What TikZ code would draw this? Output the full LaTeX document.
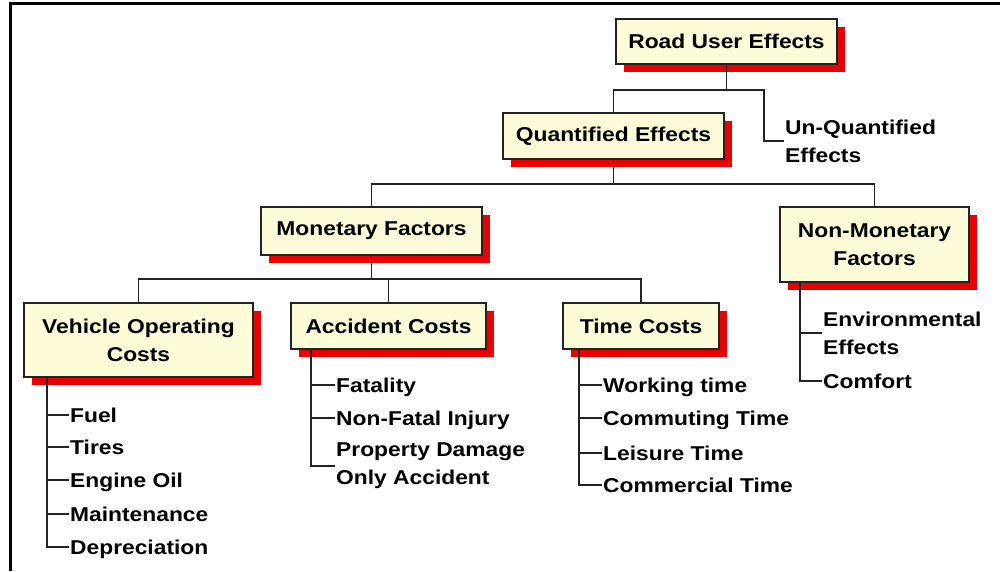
\documentclass[tikz,border=0pt]{standalone}
\usepackage{fontspec}
\setmainfont{Liberation Sans}[FakeStretch=1.14]
\usetikzlibrary{shadows}
\definecolor{boxfill}{RGB}{253,251,216}
\definecolor{shred}{RGB}{235,0,0}
\definecolor{linec}{RGB}{35,35,35}
\begin{document}
\begin{tikzpicture}[x=1pt,y=-1pt,
  every node/.style={font=\fontsize{20}{28}\selectfont\bfseries},
  box/.style={draw=linec, line width=1.9pt, fill=boxfill, inner sep=0pt, align=center,
     drop shadow={shadow xshift=8pt, shadow yshift=-8pt, fill=shred, opacity=1, draw=none}},
  item/.style={anchor=west, inner sep=1pt, align=left},
  sitem/.style={item, text height=14.5pt, text depth=0pt},
  conn/.style={draw=linec, line width=1.8pt}]
\useasboundingbox (0,0) rectangle (1000,571);
\fill[white] (0,0) rectangle (1000,571);
\draw[line width=3pt, black] (1000,3) -- (10,3) -- (10,571);

% boxes
\node[box, minimum width=221pt, minimum height=45pt] (rue) at (726.5,41.5) {Road User Effects};
\node[box, minimum width=221pt, minimum height=46pt] (qe) at (613.5,136) {Quantified Effects};
\node[box, minimum width=221pt, minimum height=48pt] (mf) at (371.5,231) {Monetary Factors};
\node[box, minimum width=189pt, minimum height=75pt] (nmf) at (874.5,244.5) {Non-Monetary\\Factors};
\node[box, minimum width=229pt, minimum height=74pt] (voc) at (138.5,340) {Vehicle Operating\\Costs};
\node[box, minimum width=195pt, minimum height=46pt] (ac) at (388.5,326) {Accident Costs};
\node[box, minimum width=156pt, minimum height=46pt] (tc) at (641,326) {Time Costs};

% items
\node[item] (uq) at (784,141) {Un-Quantified\\Effects};
\node[sitem] (fuel) at (69,415) {Fuel};
\node[sitem] (tires) at (69,447) {Tires};
\node[sitem] (oil) at (69,480) {Engine Oil};
\node[sitem] (maint) at (69,514) {Maintenance};
\node[sitem] (dep) at (69,547) {Depreciation};
\node[sitem] (fat) at (335,385) {Fatality};
\node[sitem] (inj) at (335,418) {Non-Fatal Injury};
\node[item] (prop) at (335,466) {Property Damage\\Only Accident};
\node[sitem] (work) at (602,385) {Working time};
\node[sitem] (comm) at (602,418) {Commuting Time};
\node[sitem] (leis) at (602,453) {Leisure Time};
\node[sitem] (cmrc) at (602,485) {Commercial Time};
\node[item] (env) at (822,333) {Environmental\\Effects};
\node[sitem] (comf) at (822,381) {Comfort};

% tree connectors
\draw[conn] (rue.south) -- ++(0,25) -| (qe.north);
\draw[conn] (rue.south) ++(0,25) -| ([xshift=-20pt]uq.west) -- (uq.west);
\draw[conn] (qe.south) -- ++(0,24) -| (mf.north);
\draw[conn] (qe.south) ++(0,24) -| (nmf.north);
\draw[conn] (mf.south) -- ++(0,23) -| (voc.north);
\draw[conn] (mf.south) ++(0,23) -| (ac.north);
\draw[conn] (mf.south) ++(0,23) -| (tc.north);

% list connectors
\foreach \n in {fuel,tires,oil,maint,dep}
  \draw[conn] ([xshift=24pt]voc.south west) |- (\n.west);
\foreach \n in {fat,inj,prop}
  \draw[conn] ([xshift=21pt]ac.south west) |- (\n.west);
\foreach \n in {work,comm,leis,cmrc}
  \draw[conn] ([xshift=17pt]tc.south west) |- (\n.west);
\foreach \n in {env,comf}
  \draw[conn] ([xshift=21pt]nmf.south west) |- (\n.west);
\end{tikzpicture}
\end{document}
